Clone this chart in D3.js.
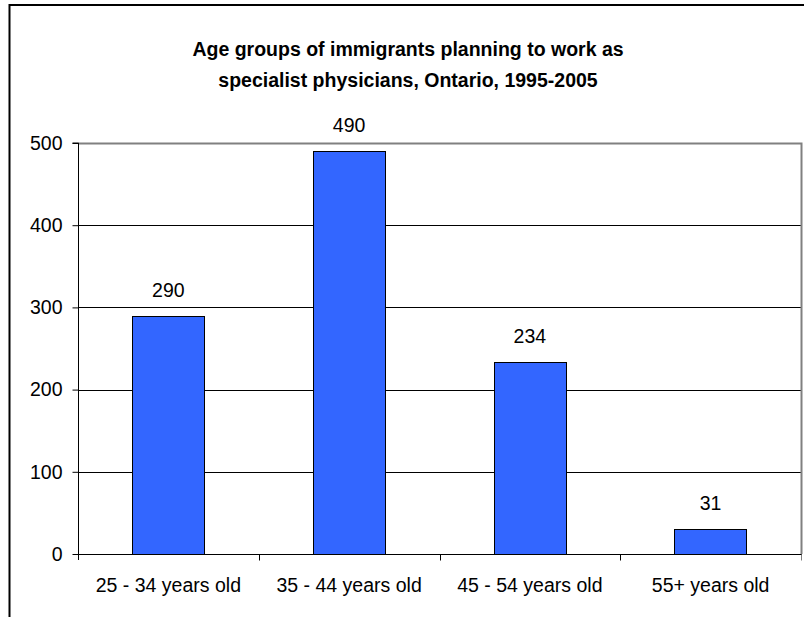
<!DOCTYPE html>
<html>
<head>
<meta charset="utf-8">
<script src="https://cdn.jsdelivr.net/npm/d3@7"></script>
<style>
  html, body { margin: 0; padding: 0; background: #fff; }
  svg { display: block; }
  text { font-family: "Liberation Sans", Arial, sans-serif; fill: #000; }
</style>
</head>
<body>
<svg id="chart" width="804" height="617"></svg>
<script>
const categories = ["25 - 34 years old", "35 - 44 years old", "45 - 54 years old", "55+ years old"];
const values = [290, 490, 234, 31];
const yTicks = [0, 100, 200, 300, 400, 500];
const titleLines = ["Age groups of immigrants planning to work as", "specialist physicians, Ontario, 1995-2005"];

const svg = d3.select("#chart");
const plot = { left: 78, right: 801, top: 143, bottom: 554 };
const labelFont = "19.5px";

// outer frame (extends beyond picture on right and bottom)
svg.append("rect")
  .attr("x", 9.5).attr("y", 5).attr("width", 900).attr("height", 800)
  .attr("fill", "#fff").attr("stroke", "#000").attr("stroke-width", 2);

// title
const title = svg.append("text")
  .attr("text-anchor", "middle")
  .style("font-weight", "bold").style("font-size", "19.5px");
titleLines.forEach((t, i) => {
  title.append("tspan").attr("x", 408).attr("y", 56 + i * 31).text(t);
});

const x = d3.scaleBand().domain(categories).range([plot.left, plot.right]).paddingInner(0.6).paddingOuter(0.3);
const xb = d3.scaleBand().domain(categories).range([plot.left, plot.right]);
const y = d3.scaleLinear().domain([0, 500]).range([plot.bottom, plot.top]);

// gridlines
svg.append("g").selectAll("line").data(yTicks.filter(d => d > 0 && d < 500)).join("line")
  .attr("x1", plot.left).attr("x2", plot.right)
  .attr("y1", d => Math.round(y(d)) + 0.5).attr("y2", d => Math.round(y(d)) + 0.5)
  .attr("stroke", "#000").attr("stroke-width", 1);

// plot area border (top & right, gray)
svg.append("path")
  .attr("d", `M${plot.left},${plot.top + 0.5}H${plot.right + 0.5}V${plot.bottom}`)
  .attr("fill", "none").attr("stroke", "#808080").attr("stroke-width", 2);

// bars
svg.append("g").selectAll("rect").data(values).join("rect")
  .attr("x", (d, i) => Math.round(x(categories[i])) + 0.5)
  .attr("y", d => Math.round(y(d)) + 0.5)
  .attr("width", Math.round(x.bandwidth()))
  .attr("height", d => Math.round(y(0)) - Math.round(y(d)))
  .attr("fill", "#3366FF").attr("stroke", "#000").attr("stroke-width", 1);

// value labels
svg.append("g").selectAll("text").data(values).join("text")
  .attr("x", (d, i) => x(categories[i]) + x.bandwidth() / 2)
  .attr("y", d => y(d) - 19)
  .attr("text-anchor", "middle").style("font-size", labelFont)
  .text(d => d);

// y axis
const yAxis = d3.axisLeft(y).tickValues(yTicks).tickSize(6).tickPadding(10);
const gy = svg.append("g").attr("transform", `translate(${plot.left + 0.5},0)`).call(yAxis);
gy.select(".domain").attr("stroke", "#000").attr("d", `M-6,${plot.top}H0V${plot.bottom + 6}`);
gy.selectAll(".tick line").attr("stroke", "#000");
gy.selectAll(".tick text").style("font-size", labelFont).style("font-family", "'Liberation Sans', Arial, sans-serif").attr("fill", "#000");

// x axis
const gx = svg.append("g").attr("transform", `translate(0,${plot.bottom + 0.5})`);
gx.append("line").attr("x1", plot.left).attr("x2", plot.right + 1).attr("y1", 0).attr("y2", 0).attr("stroke", "#000");
const bounds = categories.map(c => xb(c)).concat([plot.right]);
gx.selectAll("line.tk").data(bounds.slice(1)).join("line").attr("class", "tk")
  .attr("x1", d => Math.round(d) + 0.5).attr("x2", d => Math.round(d) + 0.5)
  .attr("y1", 0).attr("y2", 6).attr("stroke", d => d === plot.right ? "#808080" : "#000");
gx.selectAll("text").data(categories).join("text")
  .attr("x", c => xb(c) + xb.bandwidth() / 2).attr("y", 37)
  .attr("text-anchor", "middle").style("font-size", labelFont)
  .text(c => c);
</script>
</body>
</html>
